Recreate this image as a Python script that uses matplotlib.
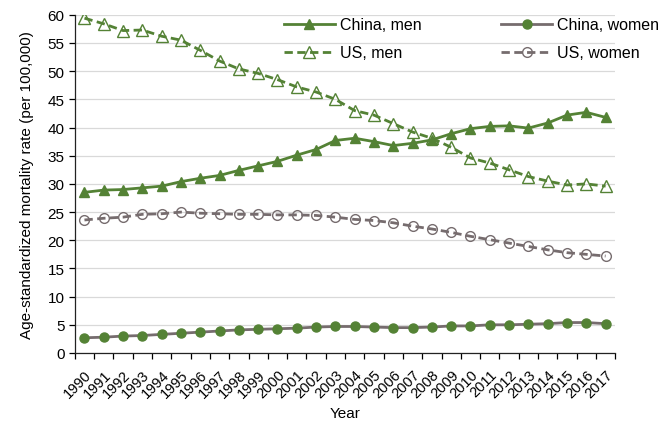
import numpy as np
import matplotlib.pyplot as plt

plt.rcParams['font.family'] = ['Liberation Sans', 'DejaVu Sans']

years = [str(y) for y in range(1990, 2018)]

china_men = [28.5, 28.9, 29.0, 29.3, 29.6, 30.4, 31.0, 31.5, 32.4, 33.2,
             34.0, 35.1, 36.1, 37.7, 38.1, 37.5, 36.8, 37.2, 37.8, 38.9,
             39.8, 40.2, 40.3, 39.9, 40.8, 42.2, 42.7, 41.8]
us_men = [59.4, 58.4, 57.2, 57.3, 56.2, 55.5, 53.7, 51.8, 50.4, 49.6,
          48.5, 47.2, 46.3, 45.0, 43.0, 42.2, 40.7, 39.2, 38.1, 36.5,
          34.6, 33.7, 32.5, 31.3, 30.5, 29.8, 30.0, 29.6]
china_women = [2.7, 2.8, 3.0, 3.1, 3.3, 3.5, 3.7, 3.9, 4.1, 4.2,
               4.3, 4.4, 4.6, 4.7, 4.7, 4.6, 4.5, 4.5, 4.6, 4.8,
               4.8, 5.0, 5.0, 5.1, 5.2, 5.4, 5.4, 5.2]
us_women = [23.6, 23.9, 24.1, 24.6, 24.7, 25.0, 24.8, 24.7, 24.6, 24.6,
            24.5, 24.5, 24.4, 24.1, 23.7, 23.5, 23.1, 22.5, 22.0, 21.4,
            20.7, 20.1, 19.5, 18.9, 18.3, 17.8, 17.5, 17.2]

green = '#548235'
grey = '#766C6E'

fig = plt.figure(figsize=(6.68, 4.27), dpi=100)
ax = fig.add_axes([0.112, 0.171, 0.809, 0.792])

x = np.arange(len(years))
ax.plot(x, china_men, c=green, lw=2.0, marker='^', ms=7.8, mfc=green, mec=green,
        label='China, men', zorder=4)
ax.plot(x, us_men, c=green, lw=2.0, ls=(0, (3, 1.6)), marker='^', ms=8, mfc='none',
        mec=green, mew=1.0, label='US, men', zorder=4)
ax.plot(x, china_women, c=grey, lw=2.0, marker='o', ms=6.5, mfc=green, mec=green,
        label='China, women', zorder=4)
ax.plot(x, us_women, c=grey, lw=2.0, ls=(0, (3, 1.6)), marker='o', ms=7, mfc='none',
        mec=grey, mew=1.0, label='US, women', zorder=4)

ax.set_xlim(-0.5, len(years) - 0.5)
ax.set_ylim(0, 60)
ax.set_yticks(range(0, 61, 5))
ax.yaxis.grid(True, color='#D9D9D9', lw=0.9)
ax.set_axisbelow(True)

ax.set_xticks(x)
ax.set_xticklabels(years, rotation=45, ha='right', rotation_mode='anchor', fontsize=10.5)
ax.tick_params(axis='x', length=0, pad=10)
ax.set_xticks(np.arange(-0.5, len(years), 1), minor=True)
ax.tick_params(axis='x', which='minor', length=4, width=0.9, direction='out')
ax.tick_params(axis='y', length=4, width=0.9, labelsize=11)

for s in ['top', 'right']:
    ax.spines[s].set_visible(False)
for s in ['left', 'bottom']:
    ax.spines[s].set_color('#222222')
    ax.spines[s].set_linewidth(0.9)

ax.set_xlabel('Year', fontsize=11, labelpad=4)
ax.set_ylabel('Age-standardized mortality rate (per 100,000)', fontsize=11, labelpad=10)

ax.legend(loc='upper left', bbox_to_anchor=(0.36, 1.035), ncol=2, frameon=False,
          fontsize=11.5, handlelength=3.2, columnspacing=5.0, handletextpad=0.3,
          labelspacing=0.8)

fig.savefig('out.png', dpi=100)
